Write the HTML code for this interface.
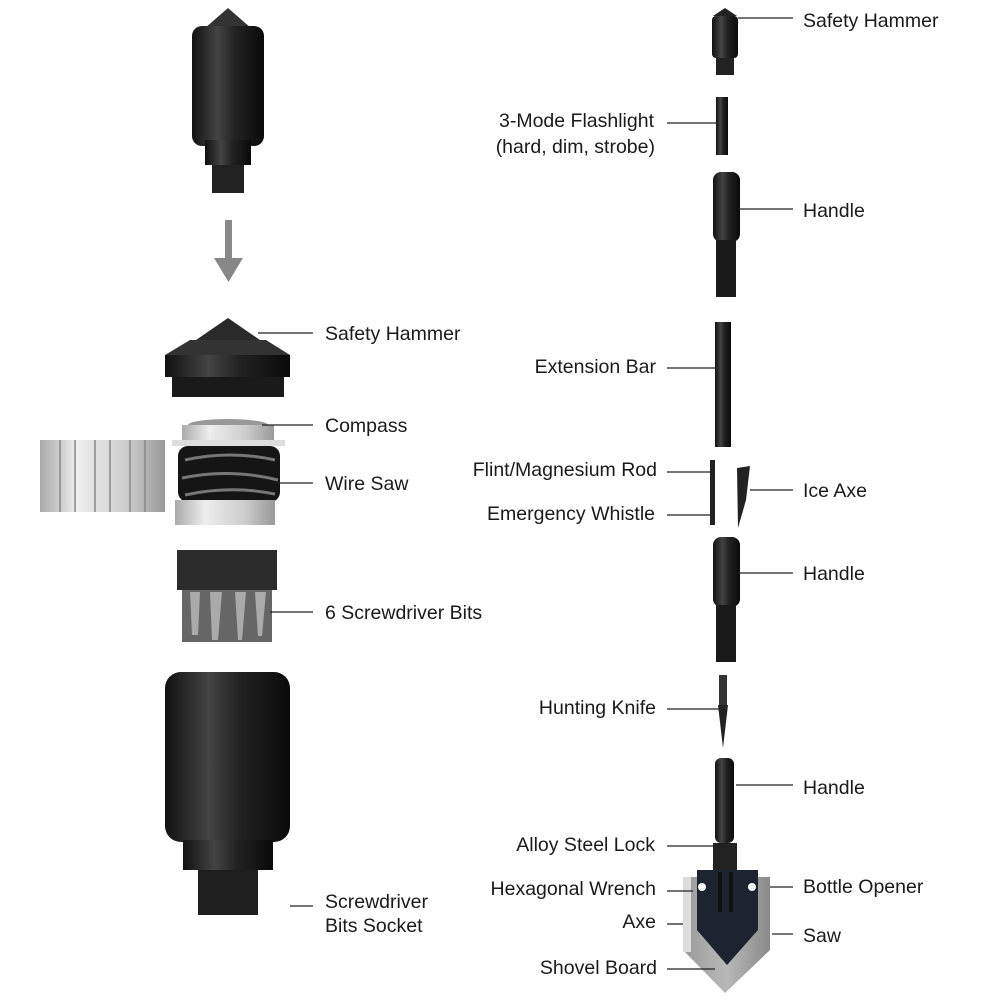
<!DOCTYPE html>
<html><head><meta charset="utf-8"><style>
html,body{margin:0;padding:0;background:#fff;width:1000px;height:1000px;overflow:hidden}
text{font-family:"Liberation Sans",sans-serif;font-size:19.5px;fill:#1a1a1a}
</style></head><body>
<svg width="1000" height="1000" viewBox="0 0 1000 1000" xmlns="http://www.w3.org/2000/svg">
<defs>
<linearGradient id="blk" x1="0" x2="1"><stop offset="0" stop-color="#111"/><stop offset=".35" stop-color="#444"/><stop offset=".6" stop-color="#222"/><stop offset="1" stop-color="#0a0a0a"/></linearGradient>
<linearGradient id="sil" x1="0" x2="1"><stop offset="0" stop-color="#aaa"/><stop offset=".3" stop-color="#eee"/><stop offset=".7" stop-color="#ccc"/><stop offset="1" stop-color="#999"/></linearGradient>
<linearGradient id="gry" x1="0" x2="1"><stop offset="0" stop-color="#9a9a9a"/><stop offset=".5" stop-color="#b8b8b8"/><stop offset="1" stop-color="#8a8a8a"/></linearGradient>
</defs>
<polygon points="228,8 205,28 251,28" fill="#333"/>
<rect x="192" y="26" width="72" height="120" rx="10" fill="url(#blk)"/>
<rect x="205" y="140" width="46" height="25" fill="url(#blk)"/>
<rect x="212" y="165" width="32" height="28" fill="#222"/>
<rect x="225" y="220" width="7" height="40" fill="#888"/>
<polygon points="214,258 243,258 228.5,282" fill="#888"/>
<polygon points="228,318 196,340 260,340" fill="#2a2a2a"/>
<polygon points="190,340 266,340 290,355 165,355" fill="#333"/>
<rect x="165" y="355" width="125" height="22" fill="url(#blk)"/>
<rect x="172" y="377" width="112" height="20" fill="#1a1a1a"/>
<ellipse cx="228" cy="425" rx="40" ry="6" fill="#999"/>
<rect x="182" y="425" width="92" height="15" fill="url(#sil)"/>
<rect x="172" y="440" width="113" height="6" fill="#ddd"/>
<rect x="178" y="446" width="102" height="56" rx="10" fill="#151515"/>
<path d="M185 460 Q230 450 275 460 M182 478 Q230 468 278 480 M185 495 Q230 485 275 494" stroke="#777" stroke-width="3" fill="none"/>
<rect x="175" y="500" width="100" height="25" fill="url(#sil)"/>
<rect x="40" y="440" width="125" height="72" fill="url(#sil)"/>
<g stroke="#888" stroke-width="1.5"><line x1="60" y1="440" x2="60" y2="512"/><line x1="75" y1="440" x2="75" y2="512"/><line x1="95" y1="440" x2="95" y2="512"/><line x1="110" y1="440" x2="110" y2="512"/><line x1="130" y1="440" x2="130" y2="512"/><line x1="145" y1="440" x2="145" y2="512"/></g>
<rect x="177" y="550" width="100" height="40" fill="#2c2c2c"/>
<rect x="182" y="590" width="90" height="52" fill="#666"/>
<g fill="#aaa"><polygon points="190,592 200,592 198,635 192,635"/><polygon points="210,592 222,592 218,640 212,640"/><polygon points="235,592 246,592 242,640 238,640"/><polygon points="255,592 266,592 262,636 258,636"/></g>
<rect x="165" y="672" width="125" height="170" rx="16" fill="url(#blk)"/>
<rect x="183" y="840" width="90" height="30" fill="url(#blk)"/>
<rect x="198" y="870" width="60" height="45" fill="#1e1e1e"/>
<polygon points="725,8 713,16 737,16" fill="#222"/>
<rect x="712" y="16" width="26" height="42" rx="4" fill="url(#blk)"/>
<rect x="716" y="58" width="18" height="17" fill="#222"/>
<rect x="716" y="97" width="12" height="58" fill="url(#blk)"/>
<rect x="713" y="172" width="27" height="70" rx="8" fill="url(#blk)"/>
<rect x="716" y="240" width="20" height="57" fill="#1a1a1a"/>
<rect x="715" y="322" width="16" height="125" fill="url(#blk)"/>
<rect x="710" y="460" width="5" height="65" fill="#222"/>
<polygon points="737,468 750,466 746,500 738,528" fill="#222"/>
<rect x="713" y="537" width="27" height="70" rx="8" fill="url(#blk)"/>
<rect x="716" y="605" width="20" height="57" fill="#1a1a1a"/>
<rect x="719" y="675" width="8" height="30" fill="#333"/>
<polygon points="718,705 728,705 723,748" fill="#222"/>
<rect x="715" y="758" width="19" height="85" rx="6" fill="url(#blk)"/>
<rect x="713" y="843" width="24" height="30" fill="#222"/>
<polygon points="683,877 770,877 770,950 725,993 683,950" fill="url(#gry)"/>
<rect x="683" y="877" width="8" height="75" fill="#ddd"/>
<polygon points="697,870 758,870 758,930 727,965 697,930" fill="#1d2430"/>
<circle cx="702" cy="887" r="4" fill="#fff"/><circle cx="752" cy="887" r="4" fill="#fff"/>
<rect x="718" y="872" width="4" height="40" fill="#111"/><rect x="729" y="872" width="4" height="40" fill="#111"/>
<g stroke="#222" stroke-width="1.3">
<line x1="258" y1="333" x2="313" y2="333"/><line x1="262" y1="425" x2="313" y2="425"/><line x1="275" y1="483" x2="313" y2="483"/><line x1="270" y1="612" x2="313" y2="612"/><line x1="290" y1="906" x2="313" y2="906"/>
<line x1="738" y1="18" x2="793" y2="18"/><line x1="667" y1="123" x2="717" y2="123"/><line x1="738" y1="209" x2="793" y2="209"/><line x1="667" y1="368" x2="717" y2="368"/><line x1="667" y1="472" x2="710" y2="472"/><line x1="750" y1="490" x2="793" y2="490"/><line x1="667" y1="515" x2="710" y2="515"/><line x1="738" y1="573" x2="793" y2="573"/><line x1="667" y1="709" x2="719" y2="709"/><line x1="736" y1="785" x2="793" y2="785"/><line x1="667" y1="846" x2="715" y2="846"/><line x1="667" y1="891" x2="693" y2="891"/><line x1="770" y1="887" x2="793" y2="887"/><line x1="667" y1="924" x2="683" y2="924"/><line x1="772" y1="934" x2="793" y2="934"/><line x1="667" y1="969" x2="715" y2="969"/>
</g>
<text x="325" y="340">Safety Hammer</text>
<text x="325" y="432">Compass</text>
<text x="325" y="490">Wire Saw</text>
<text x="325" y="619">6 Screwdriver Bits</text>
<text x="325" y="908">Screwdriver</text>
<text x="325" y="932">Bits Socket</text>
<text x="803" y="27">Safety Hammer</text>
<text x="803" y="217">Handle</text>
<text x="803" y="497">Ice Axe</text>
<text x="803" y="580">Handle</text>
<text x="803" y="794">Handle</text>
<text x="803" y="893">Bottle Opener</text>
<text x="803" y="942">Saw</text>
<g text-anchor="end">
<text x="654" y="127">3-Mode Flashlight</text>
<text x="655" y="153">(hard, dim, strobe)</text>
<text x="656" y="373">Extension Bar</text>
<text x="657" y="476">Flint/Magnesium Rod</text>
<text x="655" y="520">Emergency Whistle</text>
<text x="656" y="714">Hunting Knife</text>
<text x="655" y="851">Alloy Steel Lock</text>
<text x="656" y="895">Hexagonal Wrench</text>
<text x="656" y="928">Axe</text>
<text x="657" y="974">Shovel Board</text>
</g>
</svg>
</body></html>
